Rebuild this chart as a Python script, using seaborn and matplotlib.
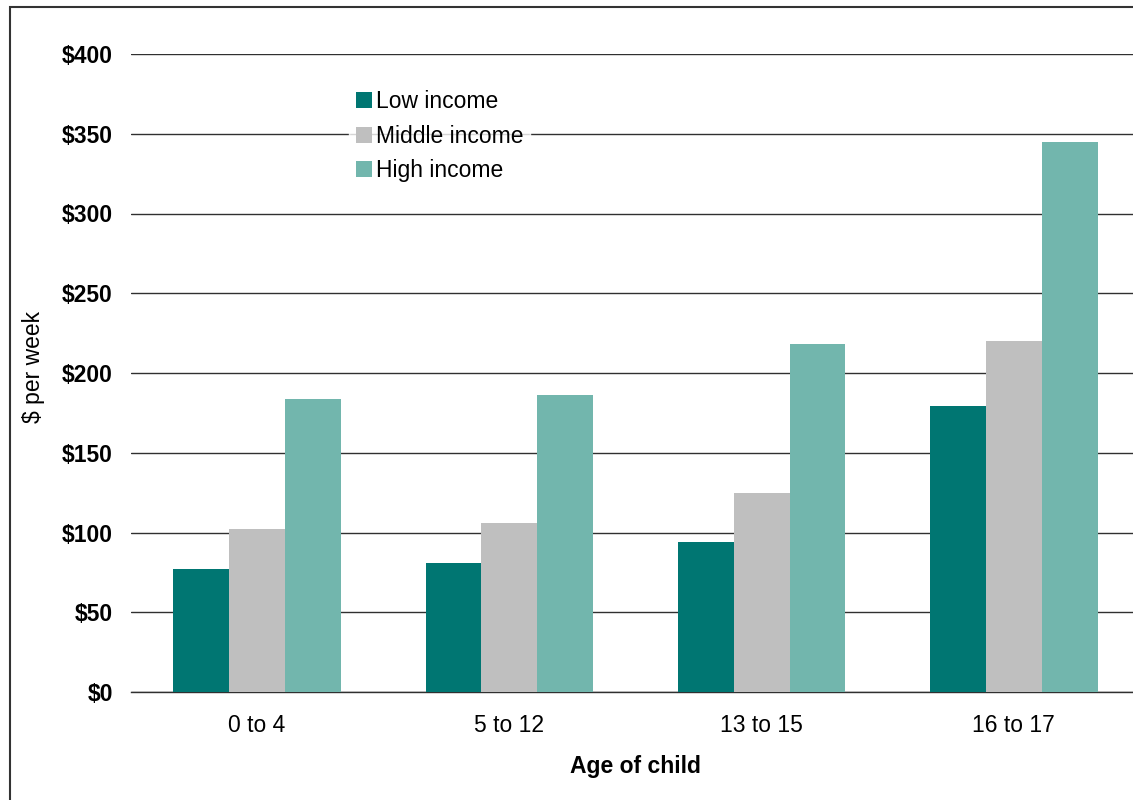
import pandas as pd
import numpy as np
import matplotlib.pyplot as plt
import seaborn as sns
from matplotlib.patches import Rectangle

ages = ["0 to 4", "5 to 12", "13 to 15", "16 to 17"]
groups = ["Low income", "Middle income", "High income"]
low = [77, 81, 94, 179]
middle = [102, 106, 125, 220]
high = [184, 186, 218, 345]
colors = ["#007672", "#BFBFBF", "#72B6AD"]
yticks = [0, 50, 100, 150, 200, 250, 300, 350, 400]

df = pd.DataFrame({
    "age": ages * 3,
    "group": [g for g in groups for _ in ages],
    "value": low + middle + high,
})

sns.set_style("white")
plt.rcParams['font.family'] = ['Liberation Sans', 'DejaVu Sans']
plt.rcParams['text.color'] = 'black'
plt.rcParams['xtick.color'] = 'black'
plt.rcParams['ytick.color'] = 'black'
plt.rcParams['axes.labelcolor'] = 'black'

fig = plt.figure(figsize=(11.33, 8), dpi=100)
ax = fig.add_axes([131 / 1133, 1 - 692 / 800, (1140 - 131) / 1133, (692 - 54) / 800])

sns.barplot(data=df, x="age", y="value", hue="group", hue_order=groups,
            palette=colors, width=0.665, gap=0, saturation=1, ax=ax,
            linewidth=0, edgecolor="none", zorder=3)

ax.set_xlim(-0.5, 3.5)
ax.set_ylim(0, 400)
ax.set_yticks(yticks)
ax.set_yticklabels(["$%d" % v for v in yticks], fontweight="bold", fontsize=16.5)
ax.tick_params(axis="x", labelsize=16.5, length=0, pad=16)
ax.tick_params(axis="y", length=0, pad=13)
ax.yaxis.grid(True, color="#303030", linewidth=1)
ax.set_axisbelow(True)
for s in ["top", "right", "left"]:
    ax.spines[s].set_visible(False)
ax.spines["bottom"].set_color("#303030")
ax.spines["bottom"].set_linewidth(1)

ax.set_xlabel("Age of child", fontsize=16.5, fontweight="bold", labelpad=13)
ax.set_ylabel("$ per week", fontsize=16.5)
ax.yaxis.set_label_coords(-0.085, 0.51)

leg = ax.legend(loc="upper left", bbox_to_anchor=(0.205, 0.972), frameon=True,
                fontsize=16.5, handlelength=0.7, handleheight=0.7, handletextpad=0.15,
                labelspacing=0.5, borderpad=0.3)
leg.get_frame().set_facecolor("white")
leg.get_frame().set_edgecolor("white")
leg.set_zorder(5)

fig.patches.append(Rectangle((10 / 1133, -0.1), 1.2, 1 - 7 / 800 + 0.1,
                             transform=fig.transFigure, fill=False,
                             edgecolor="#333333", linewidth=1.5))

fig.savefig("out.png", dpi=100)
